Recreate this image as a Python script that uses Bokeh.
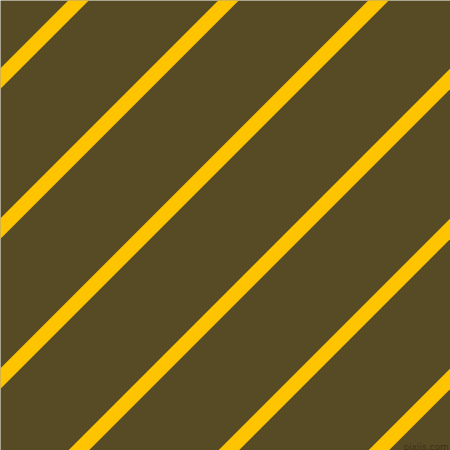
from bokeh.plotting import figure
from bokeh.models import Range1d
from bokeh.embed import file_html
from bokeh.resources import INLINE
from bokeh.core.properties import value

# stripe centre offsets (x + y, in reference pixels)
stripe_offsets = [78, 228, 378, 528, 678, 828]
watermark = ["pixiis.com"]

BG = "#574b25"
STRIPE = "#ffc400"

W = 450

p = figure(width=W, height=W, output_backend="svg", toolbar_location=None,
           x_range=Range1d(0, W), y_range=Range1d(W, 0),
           min_border=0, background_fill_color=BG, border_fill_color=BG,
           outline_line_color=None)
p.axis.visible = False
p.grid.visible = False

ext = 200
xs0 = [-ext for c in stripe_offsets]
ys0 = [c + ext for c in stripe_offsets]
xs1 = [c + ext for c in stripe_offsets]
ys1 = [-ext for c in stripe_offsets]
p.segment(x0=xs0, y0=ys0, x1=xs1, y1=ys1, line_color=STRIPE, line_width=14.5,
          line_cap="butt")

p.text(x=[403], y=[446], text=watermark, text_font=value("DejaVu Sans"),
       text_font_size="9px", text_color="#3a3218", text_baseline="alphabetic")

open("out.html", "w").write(file_html(p, INLINE))
